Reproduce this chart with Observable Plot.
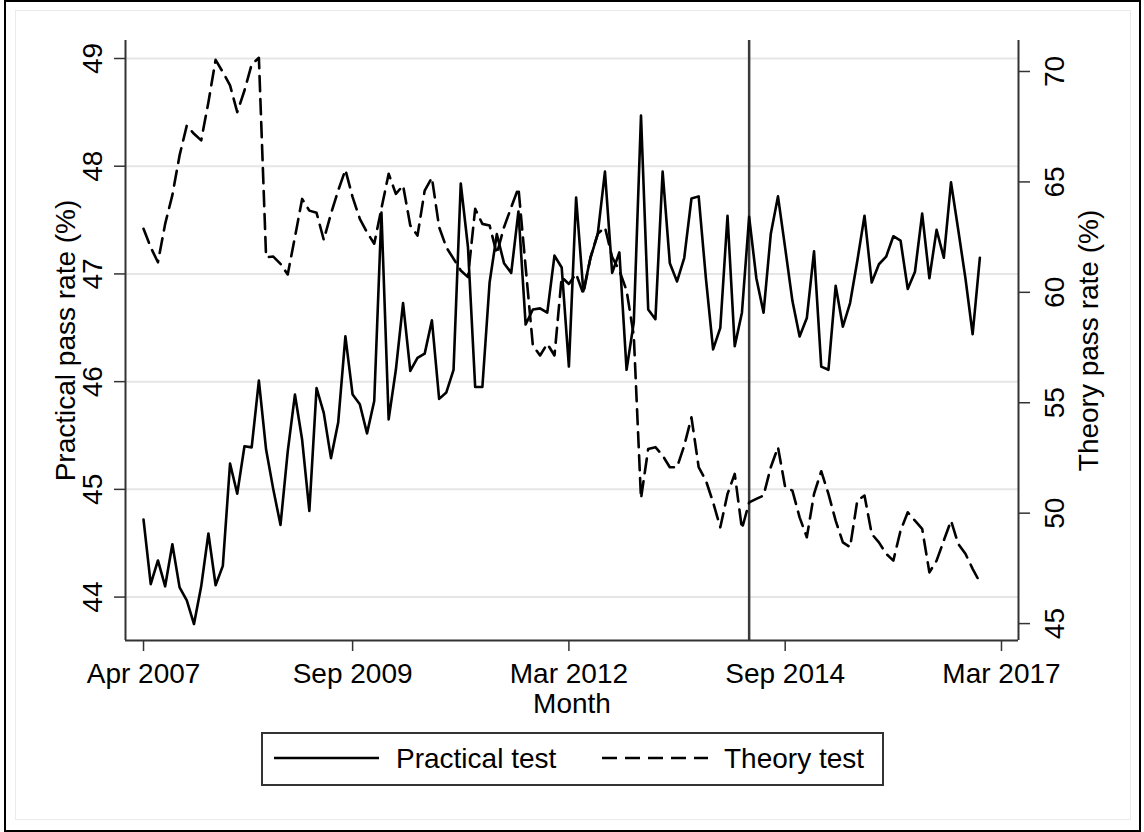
<!DOCTYPE html>
<html><head><meta charset="utf-8">
<script src="https://cdn.jsdelivr.net/npm/d3@7"></script>
<script src="https://cdn.jsdelivr.net/npm/@observablehq/plot@0.6"></script>
<style>
body{margin:0;background:#fff;font-family:"Liberation Sans",Arial,sans-serif;}
#wrap{position:relative;width:1144px;height:832px;overflow:hidden;background:#fff;}
#outer{position:absolute;left:4px;top:0px;width:1133px;height:828px;border:2px solid #000;}
#inner{position:absolute;left:15px;top:10px;width:1114px;height:808px;border:1px solid #ebebeb;}
#chart{position:absolute;left:0;top:0;}
#legend{position:absolute;left:261px;top:732px;width:619px;height:50px;border:2px solid #333;background:#fff;}
.lg{position:absolute;font-size:28px;color:#000;line-height:1;white-space:nowrap;}
.ls{position:absolute;}
</style></head><body>
<div id="wrap">
  <div id="outer"></div>
  <div id="inner"></div>
  <div id="chart"></div>
  <div id="legend"></div>
</div>
<script>
// ---- data ----
const firstMonth = "2007-04";
const lastMonth = "2016-12";
const practical = [44.72,44.12,44.34,44.10,44.49,44.09,43.97,43.75,44.10,44.59,
44.11,44.29,45.24,44.96,45.40,45.39,46.01,45.37,45.00,44.67,
45.35,45.88,45.46,44.80,45.94,45.71,45.29,45.62,46.42,45.88,
45.79,45.52,45.82,47.57,45.65,46.11,46.73,46.10,46.22,46.26,
46.57,45.84,45.90,46.11,47.84,47.25,45.95,45.95,46.92,47.37,
47.10,47.01,47.58,46.53,46.67,46.68,46.64,47.17,47.06,46.14,
47.71,46.84,47.15,47.37,47.95,47.01,47.20,46.11,46.55,48.47,
46.67,46.58,47.95,47.10,46.93,47.15,47.70,47.72,46.96,46.30,
46.50,47.54,46.33,46.64,47.53,46.96,46.64,47.37,47.72,47.24,
46.75,46.42,46.59,47.21,46.14,46.11,46.89,46.51,46.73,47.12,
47.54,46.92,47.09,47.16,47.35,47.31,46.86,47.02,47.56,46.96,
47.41,47.15,47.85,47.41,46.96,46.44,47.15];
const theory = [62.88,62.04,61.36,63.1,64.4,66.2,67.55,67.18,66.88,68.61,
70.53,69.97,69.37,68.16,69.14,70.32,70.62,61.59,61.62,61.29,
60.81,62.50,64.23,63.70,63.60,62.38,63.56,64.61,65.55,64.31,
63.33,62.72,62.20,63.8,65.37,64.46,64.84,63.03,62.57,64.61,
65.19,62.95,62.04,61.52,60.99,60.69,63.78,63.10,63.03,61.74,
62.95,63.85,64.73,61.14,57.59,57.14,57.67,57.14,60.69,60.38,
60.84,59.93,61.59,62.65,62.95,61.59,60.99,60.08,58.04,50.66,
52.91,52.99,52.61,52.08,52.08,53.06,54.34,52.08,51.48,50.49,
49.36,50.87,51.78,49.29,50.49,50.65,50.80,52.08,52.99,51.17,
51.02,49.81,48.91,50.87,51.90,50.87,49.66,48.68,48.46,50.57,
50.80,49.06,48.68,48.16,47.85,49.21,50.04,49.66,49.29,47.32,
47.85,48.76,49.66,48.61,48.16,47.48,46.87];
const xTickMonths = ["2007-04","2009-09","2012-03","2014-09","2017-03"];
const xTickLabels = ["Apr 2007","Sep 2009","Mar 2012","Sep 2014","Mar 2017"];
const leftTicks = [44,45,46,47,48,49];
const rightTicks = [45,50,55,60,65,70];
const eventMonth = "2014-04";
const seriesNames = ["Practical test","Theory test"];
const axisTitles = {left:"Practical pass rate (%)", right:"Theory pass rate (%)", x:"Month"};

// ---- helpers ----
const parseM = d3.utcParse("%Y-%m");
const m0 = parseM(firstMonth);
const months = d3.utcMonth.range(m0, d3.utcMonth.offset(parseM(lastMonth), 1));
const idx = s => d3.utcMonth.count(m0, parseM(s));
const rows = months.map((m, i) => ({i, month: m, practical: practical[i], theory: theory[i]}));
// right (theory) axis mapped onto left scale
const toLeft = d3.scaleLinear().domain([45, 70]).range([43.754, 48.8793]);
const xTicks = xTickMonths.map(idx);
const xDomain = [-2.5, 121.36];
const yDomain = [43.597, 49.167];
const FS = 28;

const chart = Plot.plot({
  width: 1144, height: 832,
  marginLeft: 125, marginRight: 126, marginTop: 40, marginBottom: 192,
  style: {fontFamily: '"Liberation Sans", Arial, sans-serif', fontSize: FS + "px", background: "transparent", color: "#000"},
  x: {domain: xDomain, range: [125, 1018]},
  y: {domain: yDomain},
  marks: [
    Plot.gridY(leftTicks, {stroke: "#e6e6e6", strokeWidth: 2, strokeOpacity: 1}),
    Plot.ruleX([idx(eventMonth)], {stroke: "#3a3a3a", strokeWidth: 2.5}),
    Plot.line(rows, {x: "i", y: "practical", stroke: "#000", strokeWidth: 2.6}),
    Plot.line(rows, {x: "i", y: d => toLeft(d.theory), stroke: "#000", strokeWidth: 2.6, strokeDasharray: "15,8"}),
    Plot.ruleX(xDomain, {stroke: "#333", strokeWidth: 2}),
    Plot.ruleY([yDomain[0]], {stroke: "#333", strokeWidth: 2}),
    Plot.axisX(xTicks, {label: null, tickSize: 11, tickPadding: 12, stroke: "#333", strokeWidth: 1.5, fontSize: FS,
      tickFormat: d => xTickLabels[xTicks.indexOf(d)]}),
    Plot.axisY(leftTicks, {label: null, anchor: "left", tickSize: 11, tickPadding: 13, tickRotate: -90, stroke: "#333", strokeWidth: 1.5, fontSize: FS,
      tickFormat: d => String(d)}),
    Plot.axisY(rightTicks.map(toLeft), {label: null, anchor: "right", tickSize: 11, stroke: "#333", strokeWidth: 1.5,
      tickFormat: () => ""}),
    Plot.text(rightTicks, {y: d => toLeft(d), text: d => String(d), frameAnchor: "right", dx: 45, rotate: -90,
      textAnchor: "middle", lineAnchor: "bottom", fontSize: FS}),
    Plot.text([axisTitles.left], {frameAnchor: "left", dx: -51, rotate: -90, textAnchor: "middle", lineAnchor: "bottom", fontSize: FS}),
    Plot.text([axisTitles.right], {frameAnchor: "right", dx: 79, rotate: -90, textAnchor: "middle", lineAnchor: "bottom", fontSize: FS}),
    Plot.text([axisTitles.x], {frameAnchor: "bottom", dy: 72, textAnchor: "middle", lineAnchor: "bottom", fontSize: FS})
  ]
});
document.getElementById("chart").appendChild(chart);

// ---- legend ----
const lg = document.getElementById("legend");
const L = 263, T = 734; // legend inner origin (page coords)
function sample(x1, x2, dash) {
  const s = document.createElementNS("http://www.w3.org/2000/svg", "svg");
  s.setAttribute("class", "ls");
  s.setAttribute("width", x2 - x1); s.setAttribute("height", 10);
  s.style.left = (x1 - L) + "px"; s.style.top = (758 - 5 - T) + "px";
  const ln = document.createElementNS("http://www.w3.org/2000/svg", "line");
  ln.setAttribute("x1", 0); ln.setAttribute("x2", x2 - x1);
  ln.setAttribute("y1", 5); ln.setAttribute("y2", 5);
  ln.setAttribute("stroke", "#000"); ln.setAttribute("stroke-width", 2.6);
  if (dash) ln.setAttribute("stroke-dasharray", dash);
  s.appendChild(ln); lg.appendChild(s);
}
function label(x, txt) {
  const d = document.createElement("div");
  d.className = "lg"; d.textContent = txt;
  d.style.left = (x - L) + "px"; d.style.top = (770 - 0.9 * 28 - T) + "px";
  lg.appendChild(d);
}
sample(274, 379, null); label(396, seriesNames[0]);
sample(602, 708, "15,8"); label(724, seriesNames[1]);
</script>
</body></html>
